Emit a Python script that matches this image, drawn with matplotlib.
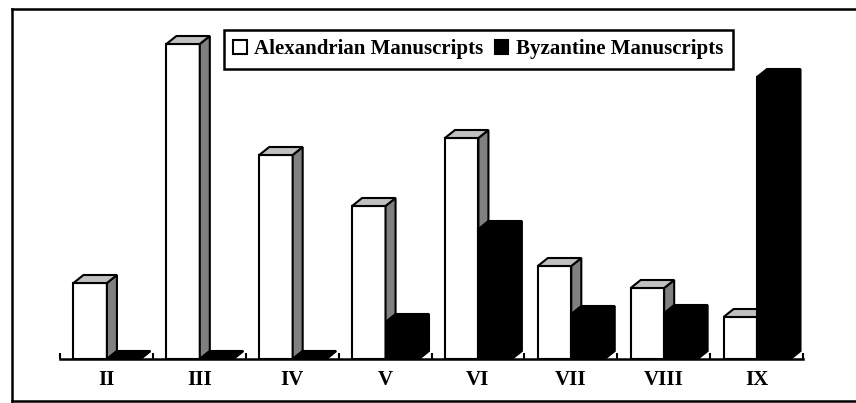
import matplotlib
matplotlib.use('Agg')
import matplotlib.pyplot as plt
from matplotlib.patches import Patch, Polygon
from matplotlib.lines import Line2D
import numpy as np

# Manuscript counts by century (arbitrary units)
centuries = ['II', 'III', 'IV', 'V', 'VI', 'VII', 'VIII', 'IX']
alexandrian = [7.6, 31.5, 20.4, 15.3, 22.1, 9.3, 7.1, 4.2]
byzantine = [0, 0, 0, 3.7, 13.0, 4.5, 4.6, 28.2]

plt.rcParams['font.family'] = ['Liberation Serif', 'DejaVu Serif']
plt.rcParams['font.weight'] = 'bold'

W, H = 856, 403
fig = plt.figure(figsize=(W / 100, H / 100), dpi=100)
ax = fig.add_axes([60 / W, 44 / H, 743 / W, 350 / H])

ymax = 35
ax.set_xlim(-0.5, 7.5)
ax.set_ylim(0, ymax)

x = np.arange(len(centuries))
barw = 0.36
depth_x = 0.108
depth_y = 8 / 350 * ymax  # 3D depth of ~8 px


def bar3d(xs, vals, front, side, top, z):
    bars = ax.bar(xs, vals, width=barw, align='edge', color=front,
                  edgecolor='black', linewidth=1.5, zorder=z)
    for b in bars:
        x0, x1, h = b.get_x(), b.get_x() + b.get_width(), b.get_height()
        side_pts = [(x1, 0), (x1 + depth_x, depth_y), (x1 + depth_x, h + depth_y), (x1, h)]
        top_pts = [(x0, h), (x0 + depth_x, h + depth_y), (x1 + depth_x, h + depth_y), (x1, h)]
        ax.add_patch(Polygon(side_pts, closed=True, facecolor=side, edgecolor='black',
                             linewidth=1.5, zorder=z, joinstyle='miter'))
        ax.add_patch(Polygon(top_pts, closed=True, facecolor=top, edgecolor='black',
                             linewidth=1.5, zorder=z, joinstyle='miter'))
    return bars


bar3d(x - 0.5 + 0.145, alexandrian, 'white', '#808080', '#c0c0c0', 2)
bar3d(x - 0.5 + 0.145 + barw, byzantine, 'black', 'black', 'black', 3)

for s in ['left', 'right', 'top']:
    ax.spines[s].set_visible(False)
ax.spines['bottom'].set_linewidth(1.8)
ax.spines['bottom'].set_zorder(5)
ax.set_yticks([])
ax.set_xticks(x)
ax.set_xticklabels(centuries, fontsize=15, fontweight='bold')
ax.tick_params(axis='x', which='major', length=0, pad=8)
ax.set_xticks(np.arange(-0.5, 8, 1), minor=True)
ax.tick_params(axis='x', which='minor', direction='in', length=4, width=1.5)

handles = [Patch(facecolor='white', edgecolor='black', linewidth=1.5),
           Patch(facecolor='black', edgecolor='black', linewidth=1.5)]
leg = fig.legend(handles, ['Alexandrian Manuscripts', 'Byzantine Manuscripts'],
                 loc='upper left', bbox_to_anchor=(224 / W, 1 - 30 / H), ncol=2,
                 prop={'size': 15, 'weight': 'bold'}, fancybox=False, framealpha=1,
                 handlelength=0.65, handleheight=0.65, handletextpad=0.35,
                 columnspacing=0.55, borderpad=0.45, borderaxespad=0)
leg.get_frame().set_edgecolor('black')
leg.get_frame().set_linewidth(1.8)

# outer frame (open on the right)
for xs, ys in [([12 / W, 1], [1 - 9 / H, 1 - 9 / H]),
               ([12 / W, 1], [1 - 401 / H, 1 - 401 / H]),
               ([12 / W, 12 / W], [1 - 9 / H, 1 - 401 / H])]:
    fig.add_artist(Line2D(xs, ys, color='black', linewidth=1.8, transform=fig.transFigure))

fig.savefig('out.png', dpi=100)
